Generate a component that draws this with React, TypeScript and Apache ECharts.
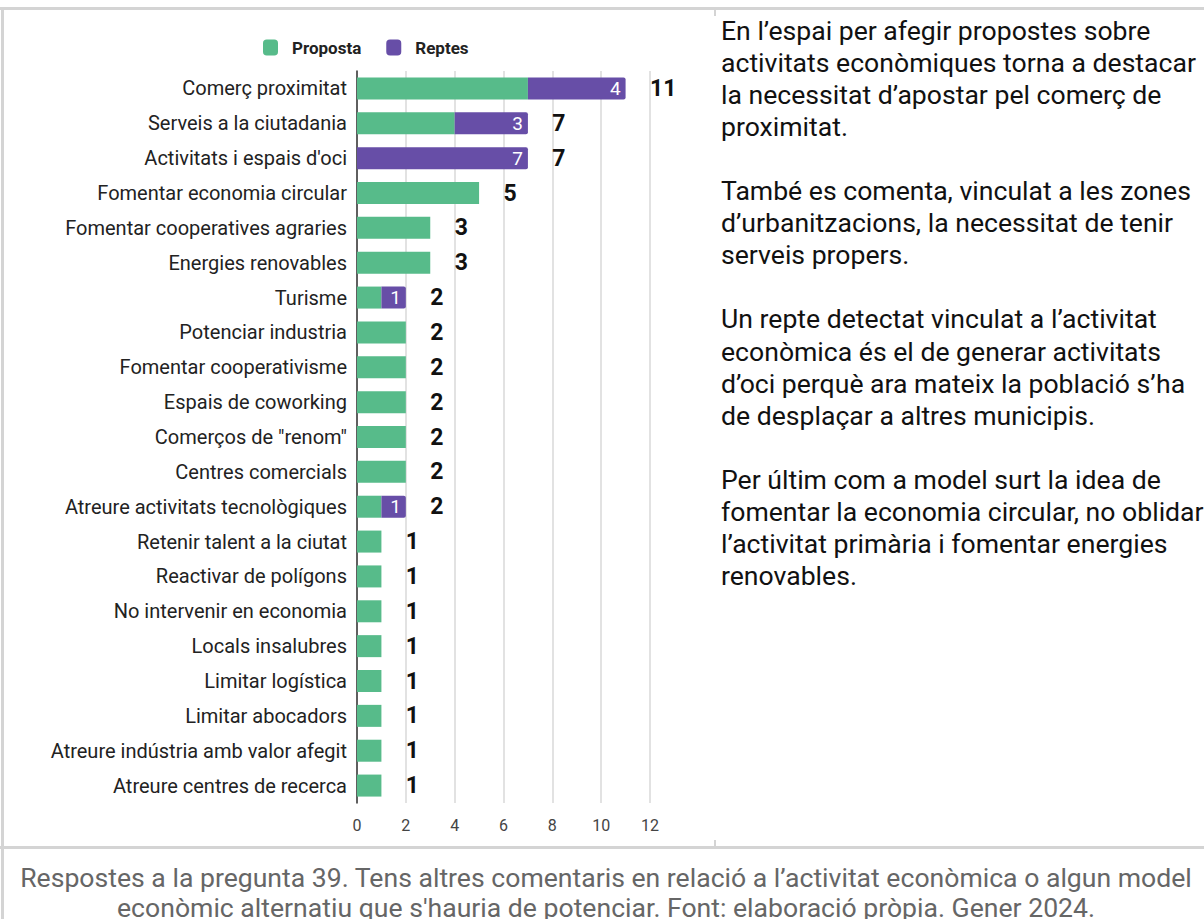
import React, { useEffect, useRef } from "react";
import * as echarts from "echarts";

const categories = [
  "Comerç proximitat",
  "Serveis a la ciutadania",
  "Activitats i espais d'oci",
  "Fomentar economia circular",
  "Fomentar cooperatives agraries",
  "Energies renovables",
  "Turisme",
  "Potenciar industria",
  "Fomentar cooperativisme",
  "Espais de coworking",
  'Comerços de "renom"',
  "Centres comercials",
  "Atreure activitats tecnològiques",
  "Retenir talent a la ciutat",
  "Reactivar de polígons",
  "No intervenir en economia",
  "Locals insalubres",
  "Limitar logística",
  "Limitar abocadors",
  "Atreure indústria amb valor afegit",
  "Atreure centres de recerca",
];
const proposta = [7, 4, 0, 5, 3, 3, 1, 2, 2, 2, 2, 2, 1, 1, 1, 1, 1, 1, 1, 1, 1];
const reptes = [4, 3, 7, 0, 0, 0, 1, 0, 0, 0, 0, 0, 1, 0, 0, 0, 0, 0, 0, 0, 0];
const totals = proposta.map((p, i) => p + reptes[i]);
const labelGap = categories.map(() => 1);

const paragraphs = [
  [
    "En l’espai per afegir propostes sobre",
    "activitats econòmiques torna a destacar",
    "la necessitat d’apostar pel comerç de",
    "proximitat.",
  ],
  [
    "També es comenta, vinculat a les zones",
    "d’urbanitzacions, la necessitat de tenir",
    "serveis propers.",
  ],
  [
    "Un repte detectat vinculat a l’activitat",
    "econòmica és el de generar activitats",
    "d’oci perquè ara mateix la població s’ha",
    "de desplaçar a altres municipis.",
  ],
  [
    "Per últim com a model surt la idea de",
    "fomentar la economia circular, no oblidar",
    "l’activitat primària i fomentar energies",
    "renovables.",
  ],
];
const caption = [
  "Respostes a la pregunta 39. Tens altres comentaris en relació a l’activitat econòmica o algun model",
  "econòmic alternatiu que s'hauria de potenciar. Font: elaboració pròpia. Gener 2024.",
];

const GREEN = "#57bb8a";
const PURPLE = "#674ea7";
const FONT = "Roboto, 'Noto Sans', sans-serif";

export default function App() {
  const ref = useRef<HTMLDivElement>(null);
  useEffect(() => {
    document.body.style.margin = "0";
    const chart = echarts.init(ref.current!, null, { renderer: "svg" });

    const graphics: any[] = [];
    // borders
    graphics.push({ type: "rect", shape: { x: 0, y: 7, width: 1204, height: 3 }, style: { fill: "#d4d4d4" }, silent: true });
    graphics.push({ type: "rect", shape: { x: 1, y: 7, width: 3, height: 912 }, style: { fill: "#d4d4d4" }, silent: true });
    graphics.push({ type: "rect", shape: { x: 0, y: 846, width: 1204, height: 3 }, style: { fill: "#d4d4d4" }, silent: true });
    graphics.push({ type: "rect", shape: { x: 714, y: 10, width: 2, height: 6 }, style: { fill: "#d4d4d4" }, silent: true });
    graphics.push({ type: "rect", shape: { x: 714, y: 840, width: 2, height: 6 }, style: { fill: "#d4d4d4" }, silent: true });

    // right-side paragraphs
    let y = 30;
    paragraphs.forEach((para) => {
      para.forEach((line) => {
        graphics.push({
          type: "text",
          x: 721,
          y,
          style: { text: line, fill: "#111", font: `26.6px ${FONT}`, textVerticalAlign: "middle" },
        });
        y += 32.1;
      });
      y += 32.1;
    });

    // caption
    caption.forEach((line, i) => {
      graphics.push({
        type: "text",
        x: 606,
        y: 877 + i * 30,
        style: { text: line, fill: "#666", font: `26.6px ${FONT}`, textAlign: "center", textVerticalAlign: "middle" },
      });
    });

    chart.setOption({
      animation: false,
      textStyle: { fontFamily: FONT },
      legend: {
        data: ["Proposta", "Reptes"],
        top: 34,
        left: 258,
        itemWidth: 15,
        itemHeight: 16,
        itemGap: 25,
        icon: "roundRect",
        textStyle: { fontSize: 17, fontWeight: "bold", color: "#222", fontFamily: FONT, padding: [0, 0, 0, 9] },
      },
      grid: { left: 357, width: 293, top: 71, height: 732, containLabel: false },
      xAxis: {
        type: "value",
        min: 0,
        max: 12,
        interval: 2,
        axisLine: { show: false },
        axisTick: { show: false },
        splitLine: { lineStyle: { color: "#d9d9d9", width: 1.5 } },
        axisLabel: { color: "#444", fontSize: 16, margin: 14 },
      },
      yAxis: {
        type: "category",
        inverse: true,
        data: categories,
        axisLine: { show: true, lineStyle: { color: "#333", width: 1.5 } },
        axisTick: { show: false },
        axisLabel: { color: "#222", fontSize: 20, margin: 10 },
      },
      series: [
        {
          name: "Proposta",
          type: "bar",
          stack: "t",
          data: proposta,
          barWidth: 22,
          itemStyle: { color: GREEN },
        },
        {
          name: "Reptes",
          type: "bar",
          stack: "t",
          data: reptes,
          barWidth: 22,
          itemStyle: { color: PURPLE, borderRadius: [0, 2, 2, 0] },
          label: {
            show: true,
            position: "insideRight",
            distance: 5,
            color: "#fff",
            fontSize: 19,
            formatter: (p: any) => (p.value ? String(p.value) : ""),
          },
        },
        {
          name: "Total",
          type: "bar",
          stack: "t",
          data: labelGap,
          barWidth: 22,
          silent: true,
          itemStyle: { color: "rgba(0,0,0,0)" },
          label: {
            show: true,
            position: "right",
            distance: 0,
            color: "#111",
            fontSize: 23,
            fontWeight: "bold",
            formatter: (p: any) => String(totals[p.dataIndex]),
          },
        },
      ],
      graphic: graphics,
    });
    return () => chart.dispose();
  }, []);
  return <div ref={ref} style={{ position: "absolute", left: 0, top: 0, width: 1204, height: 919 }} />;
}
